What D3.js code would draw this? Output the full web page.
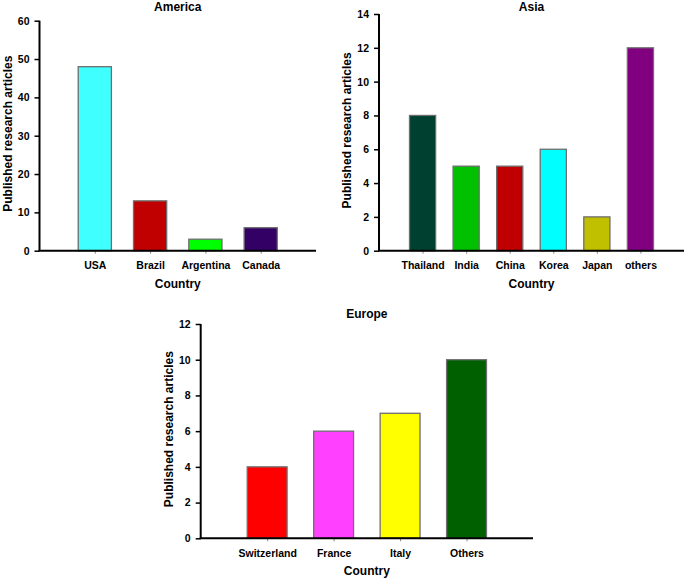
<!DOCTYPE html>
<html>
<head>
<meta charset="utf-8">
<script src="https://cdn.jsdelivr.net/npm/d3@7"></script>
<style>
  html, body { margin: 0; padding: 0; background: #fff; }
  svg { display: block; }
  text { font-family: "Liberation Sans", Arial, sans-serif; font-weight: bold; fill: #000; }
</style>
</head>
<body>
<svg id="chart" width="685" height="579"></svg>
<script>
// ---- Data ----
const americaCountries = ["USA", "Brazil", "Argentina", "Canada"];
const americaValues = [48, 13, 3, 6];
const americaColors = ["#40FFFF", "#C00000", "#00FF00", "#330066"];
const americaTicks = [0, 10, 20, 30, 40, 50, 60];

const asiaCountries = ["Thailand", "India", "China", "Korea", "Japan", "others"];
const asiaValues = [8, 5, 5, 6, 2, 12];
const asiaColors = ["#004030", "#00C000", "#C00000", "#00FFFF", "#C0C000", "#800080"];
const asiaTicks = [0, 2, 4, 6, 8, 10, 12, 14];

const europeCountries = ["Switzerland", "France", "Italy", "Others"];
const europeValues = [4, 6, 7, 10];
const europeColors = ["#FF0000", "#FF40FF", "#FFFF00", "#006000"];
const europeTicks = [0, 2, 4, 6, 8, 10, 12];

const yTitle = "Published research articles";
const xTitle = "Country";

const svg = d3.select("#chart");

function panel(cfg) {
  const { title, cats, vals, colors, ticks, x0, x1, yTop, yBot, titleY } = cfg;
  const g = svg.append("g");
  const n = cats.length;
  // positions: axis at slot 0, categories at slots 1..n, axis ends at slot n+1
  const slot = d3.scaleLinear().domain([0, n + 1]).range([x0, x1]);
  const step = slot(1) - slot(0);
  const x = d3.scalePoint().domain(cats).range([slot(1), slot(n)]);
  const y = d3.scaleLinear().domain([0, d3.max(ticks)]).range([yBot, yTop]);
  const bw = step * 0.6;

  // bars
  g.selectAll("rect.bar").data(cats).join("rect")
    .attr("class", "bar")
    .attr("x", d => x(d) - bw / 2)
    .attr("width", bw)
    .attr("y", (d, i) => y(vals[i]))
    .attr("height", (d, i) => y(0) - y(vals[i]))
    .attr("fill", (d, i) => colors[i])
    .attr("stroke", "#6e6e6e")
    .attr("stroke-width", 1.3);

  // y axis
  const ya = g.append("g").attr("transform", `translate(${x0},0)`)
    .call(d3.axisLeft(y).tickValues(ticks).tickSize(5).tickPadding(5).tickFormat(d3.format("d")));
  ya.select(".domain").attr("stroke", "#000").attr("stroke-width", 2).attr("d", `M0,${yTop}V${yBot}`);
  ya.selectAll(".tick line").attr("stroke", "#000").attr("stroke-width", 1.5);
  ya.selectAll(".tick text").style("font-size", "10.5px").style("font-family", "'Liberation Sans', Arial, sans-serif").style("font-weight", "bold");

  // x axis
  const xa = g.append("g").attr("transform", `translate(0,${yBot})`)
    .call(d3.axisBottom(x).tickSize(3).tickPadding(8));
  xa.select(".domain").remove();
  xa.selectAll(".tick line").attr("stroke", "#888").attr("stroke-width", 1);
  xa.selectAll(".tick text").style("font-size", "10.5px").style("font-family", "'Liberation Sans', Arial, sans-serif").style("font-weight", "bold");
  g.append("line").attr("x1", x0 - 1).attr("x2", x1).attr("y1", yBot).attr("y2", yBot)
    .attr("stroke", "#000").attr("stroke-width", 2);

  const cx = (x0 + x1) / 2;
  // title
  g.append("text").attr("x", cx).attr("y", titleY).attr("text-anchor", "middle")
    .style("font-size", "12px").text(title);
  // x title
  g.append("text").attr("x", cx).attr("y", yBot + 37).attr("text-anchor", "middle")
    .style("font-size", "12px").text(xTitle);
  // y title
  const ly = (yTop + yBot) / 2 - 2;
  g.append("text").attr("transform", `translate(${x0 - 28},${ly}) rotate(-90)`)
    .attr("text-anchor", "middle").style("font-size", "12px").text(yTitle);
}

panel({ title: "America", cats: americaCountries, vals: americaValues, colors: americaColors,
  ticks: americaTicks, x0: 39.5, x1: 316, yTop: 20.7, yBot: 250.7, titleY: 11 });
panel({ title: "Asia", cats: asiaCountries, vals: asiaValues, colors: asiaColors,
  ticks: asiaTicks, x0: 379, x1: 684, yTop: 14, yBot: 250.7, titleY: 11 });
panel({ title: "Europe", cats: europeCountries, vals: europeValues, colors: europeColors,
  ticks: europeTicks, x0: 200.7, x1: 533, yTop: 324, yBot: 538.3, titleY: 317.5 });
</script>
</body>
</html>
